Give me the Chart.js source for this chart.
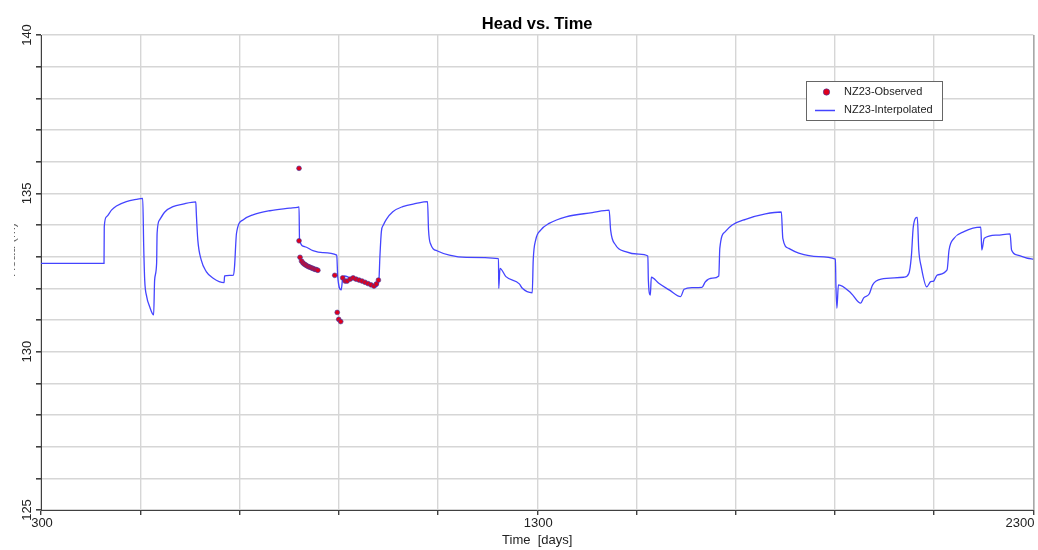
<!DOCTYPE html>
<html>
<head>
<meta charset="utf-8">
<script src="https://cdn.jsdelivr.net/npm/chart.js@4.4.1/dist/chart.umd.min.js"></script>
<style>
  html, body { margin: 0; padding: 0; background: #ffffff; }
  #wrap { width: 1038px; height: 550px; position: relative; }
</style>
</head>
<body>
<div id="wrap"><canvas id="c" width="1038" height="550"></canvas></div>
<script>
// ---- Data ----
const chartTitle = "Head vs. Time";
const xAxisTitle = "Time  [days]";
const yAxisTitle = "Head (m)";
const observedName = "NZ23-Observed";
const interpolatedName = "NZ23-Interpolated";

const xTickLabels = [300, 1300, 2300];
const yTickLabels = [125, 130, 135, 140];

// Interpolated head (line)
const lineDays = [
  300, 427, 427.5, 432, 442, 452, 472, 492, 505, 507, 509, 513, 519, 527, 529, 533, 534, 539, 550, 566, 586, 612,
  613, 616, 623, 633, 647, 669, 670, 688, 690, 694, 707, 727, 761, 801, 817, 820, 821, 831, 848, 868, 896,
  898, 905, 908, 912, 928, 955, 975, 981, 983, 986, 990, 996, 1009, 1029, 1056, 1079,
  1081, 1086, 1099, 1123, 1157, 1222, 1222.5, 1225, 1237, 1264, 1270, 1290, 1292, 1297, 1307, 1324, 1358, 1411, 1445,
  1448, 1458, 1478, 1505, 1523, 1524, 1528, 1530, 1545, 1566, 1589, 1596, 1612, 1632, 1639, 1653, 1666,
  1668, 1679, 1693, 1720, 1760, 1792, 1795, 1807, 1827, 1867, 1901, 1902, 1904, 1907, 1933, 1952, 1958, 1969, 1976,
  1993, 2039, 2049, 2054, 2058, 2066, 2069, 2074, 2085, 2093, 2099, 2106, 2126, 2130, 2140, 2160, 2194,
  2196, 2201, 2227, 2253, 2256, 2268, 2288, 2300
];
const lineHeads = [
  132.79, 132.79, 133.95, 134.26, 134.47, 134.60, 134.74, 134.81, 134.84, 133.32, 132.26, 131.74, 131.42, 131.16, 132.26, 132.79, 133.74, 134.16, 134.42, 134.58, 134.66, 134.73,
  134.37, 133.53, 132.89, 132.53, 132.32, 132.18, 132.39, 132.42, 132.68, 133.74, 134.16, 134.32, 134.45, 134.53, 134.56, 134.57, 133.53, 133.32, 133.19, 133.13, 133.05,
  132.37, 131.95, 132.32, 132.39, 132.29, 132.16, 132.05, 132.26, 133.00, 133.80, 134.00, 134.18, 134.42, 134.58, 134.68, 134.74,
  133.84, 133.37, 133.18, 133.05, 132.98, 132.94, 132.00, 132.63, 132.37, 132.14, 132.00, 131.86, 132.89, 133.53, 133.84, 134.05, 134.26, 134.39, 134.47,
  133.84, 133.37, 133.16, 133.08, 133.02, 132.26, 131.79, 132.35, 132.16, 131.95, 131.74, 131.97, 132.02, 132.03, 132.21, 132.32, 132.39,
  133.26, 133.79, 134.00, 134.18, 134.35, 134.41, 133.58, 133.26, 133.11, 133.00, 132.92, 132.11, 131.37, 132.11, 131.84, 131.53, 131.70, 131.82, 132.11,
  132.29, 132.35, 132.47, 133.00, 133.95, 134.24, 133.21, 132.68, 132.05, 132.21, 132.23, 132.42, 132.58, 133.21, 133.58, 133.79, 133.93,
  133.21, 133.58, 133.68, 133.72, 133.21, 133.05, 132.95, 132.92
];

// Observed head (points)
const obsDays = [
  820, 820, 822, 825, 828, 831, 834, 837, 840, 843, 846, 849, 852, 855, 858,
  892, 897, 900, 904,
  908, 913, 917, 923, 929, 935, 941, 947, 953, 959, 965, 971, 976, 980
];
const obsHeads = [
  135.79, 133.50, 132.98, 132.86, 132.80, 132.76, 132.73, 132.70, 132.68, 132.66, 132.64, 132.62, 132.60, 132.59, 132.57,
  132.41, 131.24, 131.02, 130.95,
  132.33, 132.23, 132.23, 132.29, 132.33, 132.29, 132.26, 132.23, 132.19, 132.15, 132.11, 132.07, 132.14, 132.26
];

// ---- Styles ----
const FONT = "'Liberation Sans', Arial, sans-serif";
const lineColor = "#4444ff";
const obsFill = "#e0001c";
const obsBorder = "#3a3aa8";
const gridColor = "#d6d6d6";
const axisColor = "#404040";

const lineData = lineDays.map((d, i) => ({ x: d, y: lineHeads[i] }));
const obsData = obsDays.map((d, i) => ({ x: d, y: obsHeads[i] }));

const decorPlugin = {
  id: 'decor',
  beforeDraw(chart) {
    const ctx = chart.ctx;
    ctx.save();
    ctx.fillStyle = '#ffffff';
    ctx.fillRect(0, 0, chart.width, chart.height);
    ctx.restore();
  },
  afterDraw(chart) {
    const ctx = chart.ctx;
    const xs = chart.scales.x, ys = chart.scales.y;
    const area = chart.chartArea;
    ctx.save();

    // right border
    ctx.strokeStyle = '#8a8a8a';
    ctx.lineWidth = 1;
    ctx.beginPath();
    ctx.moveTo(area.right + 0.5, area.top);
    ctx.lineTo(area.right + 0.5, area.bottom);
    ctx.stroke();

    // title
    ctx.fillStyle = '#000';
    ctx.font = "bold 16.5px " + FONT;
    ctx.textAlign = 'center';
    ctx.textBaseline = 'middle';
    ctx.fillText(chartTitle, (area.left + area.right) / 2, 24);

    // x tick labels
    ctx.font = "13px " + FONT;
    ctx.fillStyle = '#222';
    ctx.textBaseline = 'middle';
    xTickLabels.forEach((v, i) => {
      const px = xs.getPixelForValue(v);
      ctx.textAlign = (i === xTickLabels.length - 1) ? 'right' : 'center';
      ctx.fillText(String(v), px + 1, 523);
    });

    // y tick labels (rotated)
    yTickLabels.forEach((v) => {
      const py = ys.getPixelForValue(v);
      ctx.save();
      ctx.translate(27, py);
      ctx.rotate(-Math.PI / 2);
      ctx.textAlign = 'center';
      ctx.textBaseline = 'middle';
      ctx.fillText(String(v), 0, 0);
      ctx.restore();
    });

    // x axis title
    ctx.textAlign = 'center';
    ctx.textBaseline = 'middle';
    ctx.fillStyle = '#222';
    ctx.fillText(xAxisTitle, (area.left + area.right) / 2, 540);

    // y axis title (partially clipped as in reference)
    ctx.save();
    ctx.beginPath();
    ctx.rect(14, 0, 10, chart.height);
    ctx.clip();
    ctx.translate(11, 250);
    ctx.rotate(-Math.PI / 2);
    ctx.fillStyle = '#666';
    ctx.textAlign = 'center';
    ctx.textBaseline = 'middle';
    ctx.font = "13px " + FONT;
    ctx.fillText(yAxisTitle, 0, 0);
    ctx.restore();

    // legend
    const lx = 806, ly = 81, lw = 136, lh = 39;
    ctx.fillStyle = '#fff';
    ctx.fillRect(lx, ly, lw, lh);
    ctx.strokeStyle = '#666';
    ctx.lineWidth = 1;
    ctx.strokeRect(lx + 0.5, ly + 0.5, lw, lh);
    ctx.beginPath();
    ctx.arc(826.5, 92, 3.2, 0, Math.PI * 2);
    ctx.fillStyle = obsFill;
    ctx.fill();
    ctx.strokeStyle = obsBorder;
    ctx.lineWidth = 0.6;
    ctx.stroke();
    ctx.beginPath();
    ctx.moveTo(815, 110.5);
    ctx.lineTo(835, 110.5);
    ctx.strokeStyle = lineColor;
    ctx.lineWidth = 1.5;
    ctx.stroke();
    ctx.fillStyle = '#222';
    ctx.font = "11px " + FONT;
    ctx.textAlign = 'left';
    ctx.textBaseline = 'middle';
    ctx.fillText(observedName, 844, 92);
    ctx.fillText(interpolatedName, 844, 110);

    ctx.restore();
  }
};

new Chart(document.getElementById('c'), {
  type: 'scatter',
  data: {
    datasets: [
      {
        label: interpolatedName,
        data: lineData,
        showLine: true,
        borderColor: lineColor,
        borderWidth: 1.3,
        pointRadius: 0,
        pointHoverRadius: 0,
        cubicInterpolationMode: 'monotone',
        fill: false,
        order: 2
      },
      {
        label: observedName,
        data: obsData,
        showLine: false,
        pointRadius: 2.4,
        pointBackgroundColor: obsFill,
        pointBorderColor: obsBorder,
        pointBorderWidth: 0.6,
        backgroundColor: obsFill,
        borderColor: obsBorder,
        order: 1
      }
    ]
  },
  options: {
    responsive: false,
    animation: false,
    devicePixelRatio: 1,
    layout: { padding: { top: 35, right: 3, left: 0, bottom: 0 } },
    plugins: {
      legend: { display: false },
      title: { display: false },
      tooltip: { enabled: false }
    },
    scales: {
      x: {
        type: 'linear',
        min: 300,
        max: 2300,
        ticks: { stepSize: 200, display: false },
        grid: { color: gridColor, lineWidth: 1.4, tickLength: 5, tickColor: axisColor, drawTicks: true },
        border: { display: true, color: axisColor, width: 1 },
        afterFit(scale) { scale.height = 40; scale.paddingLeft = 0; scale.paddingRight = 0; }
      },
      y: {
        type: 'linear',
        min: 125,
        max: 140,
        ticks: { stepSize: 1, display: false },
        grid: { color: gridColor, lineWidth: 1.6, tickLength: 5, tickColor: axisColor, drawTicks: true },
        border: { display: true, color: axisColor, width: 1 },
        afterFit(scale) { scale.width = 41; scale.paddingTop = 0; scale.paddingBottom = 0; }
      }
    }
  },
  plugins: [decorPlugin]
});
</script>
</body>
</html>
